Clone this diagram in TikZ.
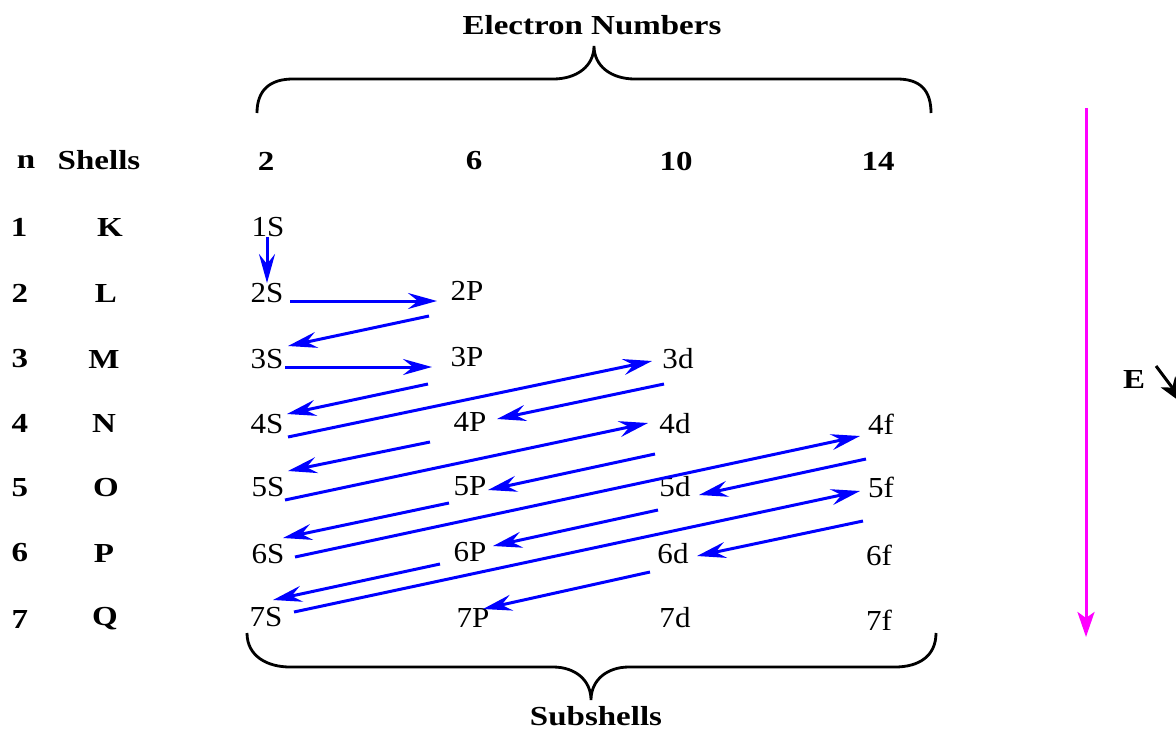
\documentclass[tikz,border=0pt]{standalone}
\usepackage{fontspec}
\newfontfamily\rfont{Liberation Serif}[FakeStretch=1.07]
\newfontfamily\bfont{Liberation Serif}[FakeStretch=1.2]
\usetikzlibrary{arrows.meta,calc}
\tikzset{
  lab/.style={inner sep=0pt, font=\fontsize{29}{29}\rfont},
  hd/.style={inner sep=0pt, font=\fontsize{27.5}{27.5}\bfont\bfseries},
  arr/.style={draw=blue, line width=3pt, -{Stealth[length=29pt,width=16pt,inset=10pt]}},
  brace/.style={draw=black, line width=2.8pt},
}
\begin{document}
\begin{tikzpicture}[x=1pt,y=-1pt]
\useasboundingbox (0,0) rectangle (1176,729);
% headers
\node[hd] (title) at (592,25) {Electron Numbers};
\node[hd] (sub) at (596,716) {Subshells};
\node[hd] (nh) at (26,162) {n};
\node[hd] (shh) at (99,160) {Shells};
\node[hd] (c2) at (266,161) {2};
\node[hd] (c6) at (474,161) {6};
\node[hd] (c10) at (676,161) {10};
\node[hd] (c14) at (878,161) {14};
% n column
\node[hd] (n1) at (19,227) {1};
\node[hd] (n2) at (20,293) {2};
\node[hd] (n3) at (20,359) {3};
\node[hd] (n4) at (20,423) {4};
\node[hd] (n5) at (20,488) {5};
\node[hd] (n6) at (20,553) {6};
\node[hd] (n7) at (20,619) {7};
% shells
\node[hd] (k) at (110,227) {K};
\node[hd] (l) at (106,293) {L};
\node[hd] (m) at (104,359) {M};
\node[hd] (nn) at (104,423) {N};
\node[hd] (o) at (106,488) {O};
\node[hd] (p) at (104,553) {P};
\node[hd] (q) at (105,619) {Q};
% subshells
\node[lab] (s1) at (268,227) {1S};
\node[lab] (s2) at (267,293) {2S};
\node[lab] (p2) at (467,291) {2P};
\node[lab] (s3) at (267,359) {3S};
\node[lab] (p3) at (467,357) {3P};
\node[lab] (d3) at (678,359) {3d};
\node[lab] (s4) at (267,424) {4S};
\node[lab] (p4) at (470,422) {4P};
\node[lab] (d4) at (675,424) {4d};
\node[lab] (f4) at (881,424) {4f};
\node[lab] (s5) at (268,487) {5S};
\node[lab] (p5) at (470,486) {5P};
\node[lab] (d5) at (675,487) {5d};
\node[lab] (f5) at (881,487) {5f};
\node[lab] (s6) at (268,554) {6S};
\node[lab] (p6) at (470,552) {6P};
\node[lab] (d6) at (673,554) {6d};
\node[lab] (f6) at (879,555) {6f};
\node[lab] (s7) at (266,617) {7S};
\node[lab] (p7) at (473,618) {7P};
\node[lab] (d7) at (675,618) {7d};
\node[lab] (f7) at (879,620) {7f};
% arrows
\draw[arr] ($(s1)+(-1,10)$) -- ($(s2)+(0,-10)$);
\draw[arr] ($(s2)+(23,8)$) -- ($(p2)+(-30,10)$);
\draw[arr] ($(p2)+(-38,25)$) -- ($(s3)+(21,-13)$);
\draw[arr] ($(s3)+(18,8)$) -- ($(p3)+(-35,10)$);
\draw[arr] ($(p3)+(-39,27)$) -- ($(s4)+(20,-10)$);
\draw[arr] ($(s4)+(21,13)$) -- ($(d3)+(-26,2)$);
\draw[arr] ($(d3)+(-14,25)$) -- ($(p4)+(27,-3)$);
\draw[arr] ($(p4)+(-40,20)$) -- ($(s5)+(20,-16)$);
\draw[arr] ($(s5)+(17,13)$) -- ($(d4)+(-27,-1)$);
\draw[arr] ($(d4)+(-20,30)$) -- ($(p5)+(18,4)$);
\draw[arr] ($(p5)+(-21,17)$) -- ($(s6)+(15,-16)$);
\draw[arr] ($(s6)+(27,3)$) -- ($(f4)+(-21,12)$);
\draw[arr] ($(f4)+(-15,35)$) -- ($(d5)+(24,8)$);
\draw[arr] ($(d5)+(-17,23)$) -- ($(p6)+(23,-6)$);
\draw[arr] ($(p6)+(-30,12)$) -- ($(s7)+(7,-17)$);
\draw[arr] ($(s7)+(28,-5)$) -- ($(f5)+(-21,4)$);
\draw[arr] ($(f5)+(-18,34)$) -- ($(d6)+(24,2)$);
\draw[arr] ($(d6)+(-23,18)$) -- ($(p7)+(10,-9)$);
% braces
\draw[brace] (257,113) .. controls (257,90) and (270,79) .. (293,79) -- (553,79)
  .. controls (577,79) and (594,66) .. (594,46)
  .. controls (594,66) and (611,79) .. (635,79) -- (897,79)
  .. controls (920,79) and (931,90) .. (931,113);
\draw[brace] (247,633) .. controls (247,656) and (267,667) .. (290,667) -- (553,667)
  .. controls (575,667) and (591,680) .. (591,700)
  .. controls (591,680) and (607,667) .. (629,667) -- (895,667)
  .. controls (919,667) and (936,656) .. (936,633);
% energy arrow
\coordinate (etop) at (1086,108);
\coordinate (ebot) at (1086,637);
\draw[draw={rgb,255:red,255;green,0;blue,255}, line width=3pt,
  -{Stealth[length=25pt,width=17pt,inset=6pt]}] (etop) -- (ebot);
\node[hd] (E) at (1134,379) {E};
\coordinate (ea) at (1156,366);
\coordinate (eb) at (1186,406);
\draw[line width=3pt, -{Stealth[length=30pt,width=18pt,inset=7pt]}] (ea) -- (eb);
\end{tikzpicture}
\end{document}
